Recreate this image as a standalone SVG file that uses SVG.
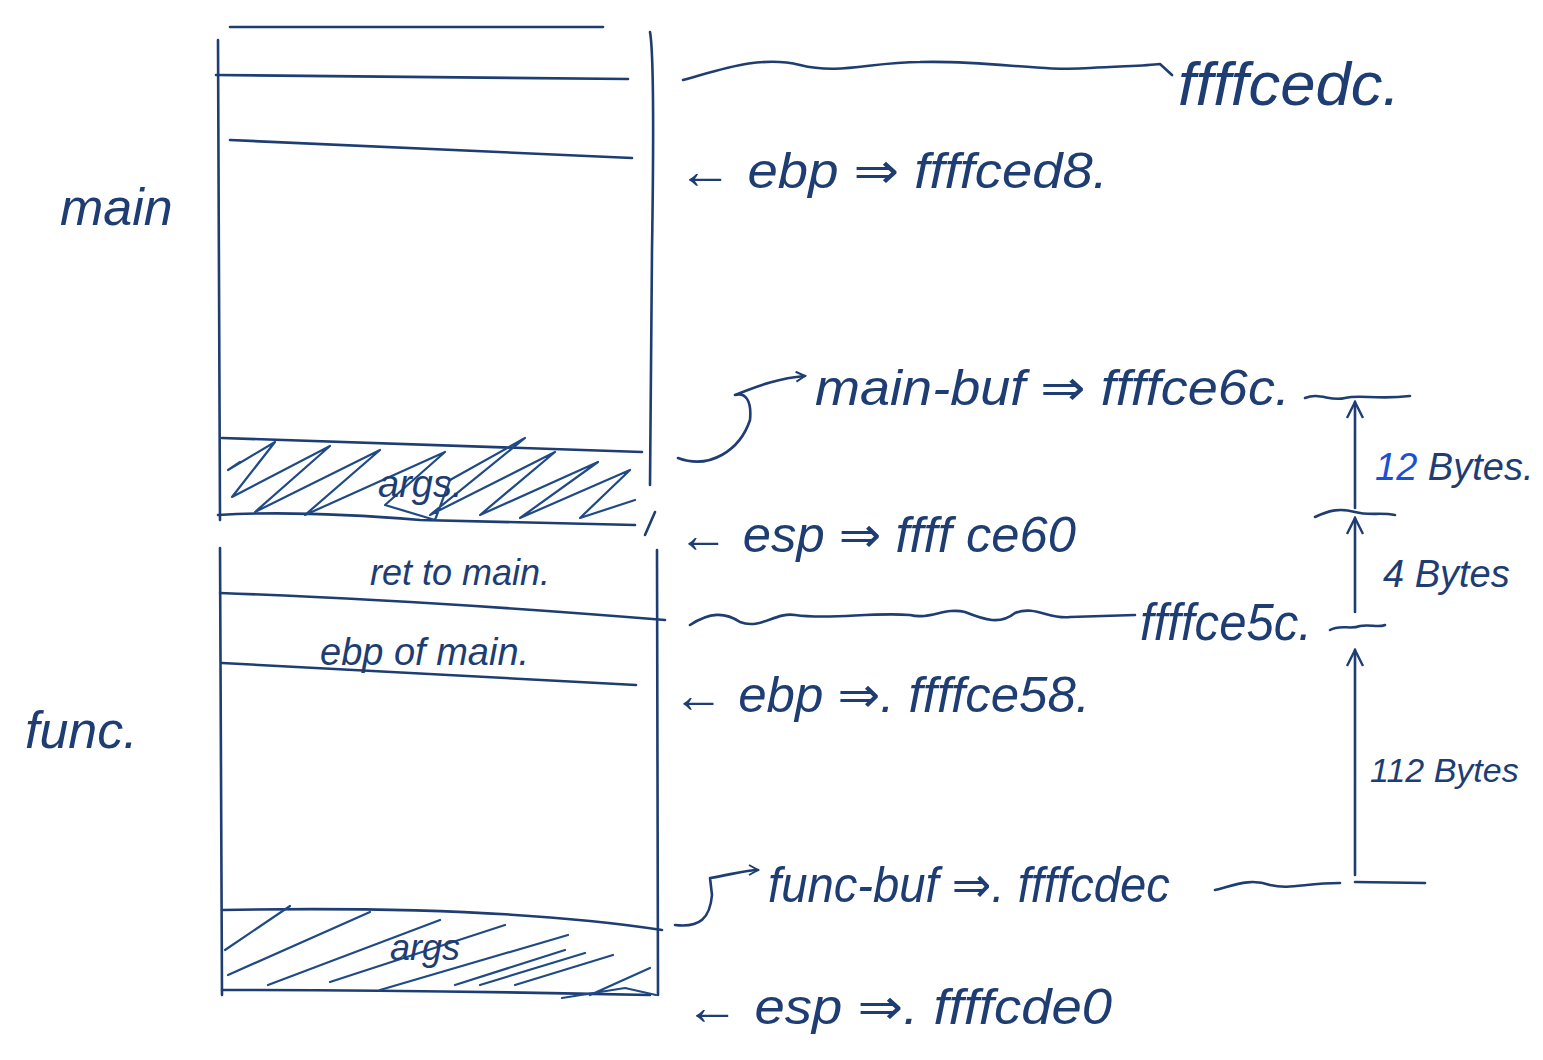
<svg xmlns="http://www.w3.org/2000/svg" width="1543" height="1060" viewBox="0 0 1543 1060">
<style>
.ink{fill:none;stroke:#1e3d72;stroke-width:2.6;stroke-linecap:round;stroke-linejoin:round}
.hatch{fill:none;stroke:#1f4a86;stroke-width:2.2;stroke-linecap:round;stroke-linejoin:round}
.t{font-family:"Liberation Sans","DejaVu Sans",sans-serif;fill:#1e3d72;font-style:italic}
.blue{fill:#1d4fd6}
</style>
<defs>
<marker id="ah" viewBox="0 0 12 12" refX="10" refY="6" markerWidth="12" markerHeight="12" orient="auto" markerUnits="userSpaceOnUse">
<path d="M1,1 L10,6 L1,11" fill="none" stroke="#1e3d72" stroke-width="2"/>
</marker>
<marker id="ahb" viewBox="0 0 20 20" refX="18" refY="10" markerWidth="20" markerHeight="20" orient="auto" markerUnits="userSpaceOnUse">
<path d="M2,2 L18,10 L2,18" fill="none" stroke="#1e3d72" stroke-width="2.4"/>
</marker>
</defs>
<rect width="1543" height="1060" fill="#ffffff"/>

<g id="main-frame">
<path class="ink" d="M230,27 L603,27"/>
<path class="ink" d="M216,75 L628,79"/>
<path class="ink" d="M230,140 L632,158"/>
<path class="ink" d="M218,40 L220,520"/>
<path class="ink" d="M650,32 Q655,60 652,250 L650,485"/>
<path class="ink" d="M222,438 L642,452"/>
<path class="ink" d="M218,515 Q300,510 420,520 L635,525"/>
<path class="hatch" d="M240,462 L228,470 L275,442 L232,497 L330,446 L255,512 L380,450 L305,515 L445,452 L385,505 L435,520 L450,480 L525,438 L430,515 L555,452 L480,515 L598,462 L520,518 L630,470 L580,518 L635,500"/>
<text class="t" x="378" y="497" font-size="38">args.</text>
<text class="t" x="60" y="225" font-size="52">main</text>
</g>

<g id="func-frame">
<path class="ink" d="M220,548 L222,995"/>
<path class="ink" d="M657,550 L658,995"/>
<path class="ink" d="M220,593 Q420,600 665,620"/>
<path class="ink" d="M222,663 L636,685"/>
<path class="ink" d="M222,910 Q500,905 662,930"/>
<path class="ink" d="M222,990 Q420,990 650,995"/>
<path class="hatch" d="M225,950 L290,906 M228,975 L370,912 M268,985 L440,920 M330,982 L505,925 M380,990 L568,935 M455,985 L565,950 M480,985 L585,953 M515,985 L613,955 M590,995 L650,968 M562,998 L625,988 L656,995"/>
<text class="t" x="390" y="960" font-size="36">args</text>
<text class="t" x="370" y="585" font-size="36">ret to main.</text>
<text class="t" x="320" y="665" font-size="38">ebp of main.</text>
<text class="t" x="25" y="748" font-size="52">func.</text>
</g>

<g id="connectors">
<path class="ink" d="M683,80 C720,70 760,55 800,65 C840,75 870,62 920,62 C990,60 1040,72 1090,68 C1120,66 1145,66 1160,64 L1172,75"/>
<path class="ink" d="M690,625 C710,612 725,612 740,622 C760,630 775,612 795,615 C830,620 870,612 910,615 C930,620 945,607 965,612 C985,620 1000,625 1015,613 C1035,605 1050,620 1070,617 L1135,615"/>
<path class="ink" d="M1305,398 C1320,392 1330,402 1345,398 C1360,394 1375,400 1410,396"/>
<path class="ink" d="M1315,517 C1330,510 1340,508 1355,512 C1370,516 1380,512 1395,515"/>
<path class="ink" d="M1330,630 C1340,624 1350,630 1360,626 C1370,624 1378,628 1385,625"/>
<path class="ink" d="M1215,890 C1235,885 1250,878 1270,885 C1290,890 1305,883 1340,883"/>
<path class="ink" d="M1355,882 L1425,883"/>
<path class="ink" d="M1355,508 L1355,402" marker-end="url(#ahb)"/>
<path class="ink" d="M1355,612 L1355,518" marker-end="url(#ahb)"/>
<path class="ink" d="M1355,875 L1355,650" marker-end="url(#ahb)"/>
<path class="ink" d="M678,458 C710,470 740,450 750,420 C752,400 745,392 735,395 C760,385 780,378 805,376" marker-end="url(#ah)"/>
<path class="ink" d="M675,925 C700,928 710,918 712,895 L710,878 C730,875 745,870 758,870" marker-end="url(#ah)"/>
<path class="ink" d="M645,535 L655,512"/>
</g>

<g id="labels">
<text class="t" x="1178" y="105" font-size="62" textLength="222" lengthAdjust="spacingAndGlyphs">ffffcedc.</text>
<text class="t" x="678" y="188" font-size="50" textLength="430" lengthAdjust="spacingAndGlyphs">← ebp ⇒ ffffced8.</text>
<text class="t" x="815" y="405" font-size="50" textLength="475" lengthAdjust="spacingAndGlyphs">main-buf ⇒ ffffce6c.</text>
<text class="t" x="1375" y="480" font-size="38"><tspan class="blue">12</tspan> Bytes.</text>
<text class="t" x="678" y="552" font-size="50" textLength="398" lengthAdjust="spacingAndGlyphs">← esp ⇒ ffff ce60</text>
<text class="t" x="1383" y="587" font-size="38">4 Bytes</text>
<text class="t" x="1140" y="640" font-size="52" textLength="172" lengthAdjust="spacingAndGlyphs">ffffce5c.</text>
<text class="t" x="673" y="712" font-size="50" textLength="417" lengthAdjust="spacingAndGlyphs">← ebp ⇒. ffffce58.</text>
<text class="t" x="1370" y="782" font-size="34">112 Bytes</text>
<text class="t" x="768" y="902" font-size="50" textLength="402" lengthAdjust="spacingAndGlyphs">func-buf ⇒. ffffcdec</text>
<text class="t" x="685" y="1024" font-size="50" textLength="427" lengthAdjust="spacingAndGlyphs">← esp ⇒. ffffcde0</text>
</g>
</svg>
